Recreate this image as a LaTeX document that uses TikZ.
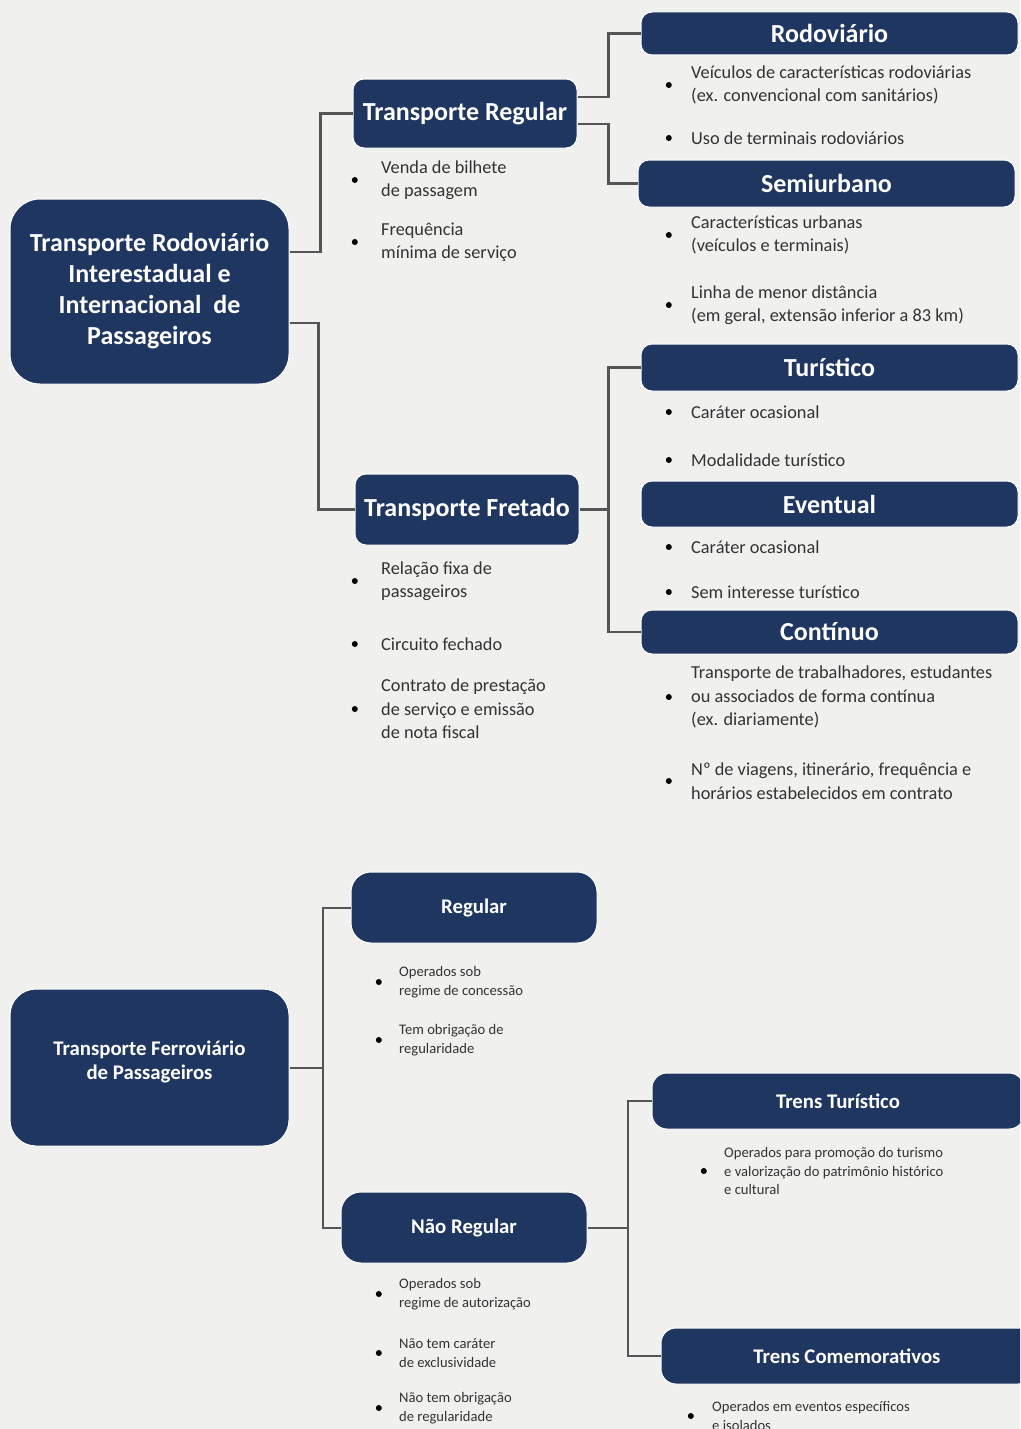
\documentclass[tikz,border=0pt]{standalone}
\usepackage{fontspec}
\setmainfont{Carlito}
\definecolor{navy}{HTML}{1F3660}
\definecolor{paper}{HTML}{F0F0EE}
\definecolor{wire}{HTML}{555555}
\definecolor{ink}{HTML}{333333}
\tikzset{
	box/.style={fill=navy, draw=white, line width=1pt, rounded corners=11pt, text=white, align=center, inner sep=0pt, font=\bfseries\fontsize{26}{31}\selectfont},
	sbox/.style={box, rounded corners=20pt, font=\bfseries\fontsize{20.8}{24}\selectfont},
	dot/.style={circle, fill=black, inner sep=0pt, minimum size=6pt},
	bitem/.style={anchor=west, align=left, inner sep=0pt, text=ink, font=\fontsize{18.3}{23.5}\selectfont, label={[dot, label distance=#1]left:{}}},
	bitem/.default=19pt,
	sitem/.style={bitem=#1, font=\fontsize{14.6}{18.5}\selectfont},
	sitem/.default=17pt,
	link/.style={draw=wire, line width=2.5pt},
}
\begin{document}
\begin{tikzpicture}[x=1pt, y=-1pt]
	\useasboundingbox (0,0) rectangle (1020,1429);
	\fill[paper] (0,0) rectangle (1020,1429);
	\clip (0,0) rectangle (1020,1429);

	\node[box, rounded corners=30pt, minimum width=279pt, minimum height=185pt] (rodint) at (149.5,291.5) {Transporte Rodoviário\\Interestadual e\\Internacional\ \ de\\Passageiros};
	\node[box, minimum width=224pt, minimum height=69pt] (treg) at (465,113.5) {Transporte Regular};
	\node[box, minimum width=224pt, minimum height=71pt] (tfret) at (467,509.5) {Transporte Fretado};
	\node[box, minimum width=377pt, minimum height=43pt] (rodo) at (829.5,33.5) {Rodoviário};
	\node[box, minimum width=377pt, minimum height=47pt] (semi) at (826.5,183.5) {Semiurbano};
	\node[box, minimum width=377pt, minimum height=47pt] (turi) at (829.5,367.5) {Turístico};
	\node[box, minimum width=377pt, minimum height=46pt] (even) at (829.5,504) {Eventual};
	\node[box, minimum width=377pt, minimum height=44pt] (cont) at (829.5,632) {Contínuo};

	\node[bitem=23pt] (venda) at (381,180) {Venda de bilhete\\de passagem};
	\node[bitem=23pt] (freq) at (381,242) {Frequência\\mínima de serviço};
	\node[bitem] (veic) at (691,85) {Veículos de características rodoviárias\\(ex. convencional com sanitários)};
	\node[bitem] (term) at (691,138) {Uso de terminais rodoviários};
	\node[bitem] (urb) at (691,235) {Características urbanas\\(veículos e terminais)};
	\node[bitem] (linha) at (691,305) {Linha de menor distância\\(em geral, extensão inferior a 83 km)};
	\node[bitem] (ocas) at (691,412) {Caráter ocasional};
	\node[bitem] (modal) at (691,460) {Modalidade turístico};
	\node[bitem] (ocasb) at (691,547) {Caráter ocasional};
	\node[bitem] (seminter) at (691,592) {Sem interesse turístico};
	\node[bitem] (trab) at (691,697) {Transporte de trabalhadores, estudantes\\ou associados de forma contínua\\(ex. diariamente)};
	\node[bitem] (viag) at (691,781) {Nº de viagens, itinerário, frequência e\\horários estabelecidos em contrato};
	\node[bitem=23pt] (relac) at (381,581) {Relação fixa de\\passageiros};
	\node[bitem=23pt] (circ) at (381,644) {Circuito fechado};
	\node[bitem=23pt] (contr) at (381,709) {Contrato de prestação\\de serviço e emissão\\de nota fiscal};

	\draw[link] ([yshift=39.5pt]rodint.east) -- ++(31,0) |- (treg.west);
	\draw[link] ([yshift=-31.5pt]rodint.east) -- ++(29,0) |- (tfret.west);
	\draw[link] ([yshift=16.5pt]treg.east) -- ++(31,0) |- (rodo.west);
	\draw[link] ([yshift=-10.5pt]treg.east) -- ++(31,0) |- (semi.west);
	\draw[link] (tfret.east) -- ++(29,0) coordinate (fk);
	\draw[link] (turi.west) -| (fk) |- (cont.west);

	\node[sbox, rounded corners=26pt, text depth=15pt, minimum width=279pt, minimum height=157pt] (tferr) at (149.5,1067.5) {Transporte Ferroviário\\de Passageiros};
	\node[sbox, minimum width=246pt, minimum height=71pt] (freg) at (474,907.5) {Regular};
	\node[sbox, minimum width=246pt, minimum height=71pt] (fnreg) at (464,1227.5) {Não Regular};
	\node[sbox, rounded corners=15pt, minimum width=372pt, minimum height=56pt] (ttur) at (838,1101) {Trens Turístico};
	\node[sbox, rounded corners=15pt, minimum width=372pt, minimum height=56pt] (tcom) at (847,1356) {Trens Comemorativos};

	\node[sitem] (conc) at (399,982) {Operados sob\\regime de concessão};
	\node[sitem] (obrig) at (399,1040) {Tem obrigação de\\regularidade};
	\node[sitem] (autor) at (399,1294) {Operados sob\\regime de autorização};
	\node[sitem] (exclus) at (399,1353) {Não tem caráter\\de exclusividade};
	\node[sitem] (nobrig) at (399,1408) {Não tem obrigação\\de regularidade};
	\node[sitem] (promo) at (724,1171) {Operados para promoção do turismo\\e valorização do patrimônio histórico\\e cultural};
	\node[sitem=18pt] (event) at (712,1416) {Operados em eventos específicos\\e isolados};

	\draw[link, line width=2pt] (tferr.east) -- ++(33,0) coordinate (ff);
	\draw[link, line width=2pt] (freg.west) -| (ff) |- (fnreg.west);
	\draw[link, line width=2pt] (fnreg.east) -- ++(40,0) coordinate (fn);
	\draw[link, line width=2pt] (ttur.west) -| (fn) |- (tcom.west);
\end{tikzpicture}
\end{document}
